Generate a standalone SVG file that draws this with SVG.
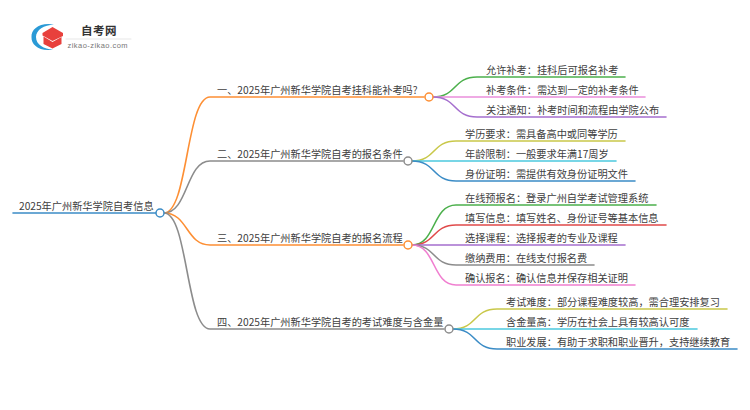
<svg xmlns="http://www.w3.org/2000/svg" width="750" height="410" viewBox="0 0 750 410">
<style>
text{font-family:"Noto Sans CJK SC","Liberation Sans",sans-serif;font-size:10.2px;fill:#404040}
path{fill:none;stroke-width:1.6;stroke-linecap:round}
.n{fill:#fff;stroke-width:1.5}
.o{stroke:#fd8f34}.g{stroke:#8c8c8c}.gr{stroke:#4cb04c}.pk{stroke:#ea8fdc}.pu{stroke:#a56fce}.y{stroke:#c9c84a}.c{stroke:#4cc9de}.b{stroke:#3b8cc6}.r{stroke:#e04a4a}.m{stroke:#f07fd0}
</style>
<rect width="750" height="410" fill="#fff"/>
<g id="logo">
<path d="M54 24.500C40 22 31 29 31.500 37C31 45 40 52 53 49.500C44 49 36 45 36 37C36 30 44 25 54 24.500Z" style="fill:#2a9ad6;stroke:none"/>
<path d="M52.500 27L63 33V36L52.500 41L42.500 35.500V33Z" style="fill:#e8403c;stroke:none"/>
<path d="M43.500 36.500L52.500 42L61.500 37V44L52.500 48.500L43.500 44Z" style="fill:#e8403c;stroke:none"/>
<text x="81" y="35" style="font-size:11.500px;font-weight:700;fill:#333;letter-spacing:.5px">自考网</text>
<path d="M66 39H131" style="stroke:#ddd;stroke-width:.7"/>
<text x="67.500" y="48" style="font-size:7.500px;fill:#777;letter-spacing:.45px;font-family:'Liberation Sans',sans-serif">zikao-zikao.com</text>
</g>
<g id="connectors">
<path class="b" d="M13 213H156"/>
<path class="o" d="M164 213C188 213 186 97 210 97H424"/>
<path class="g" d="M164 213C188 213 186 161 210 161H403"/>
<path class="o" d="M164 213C188 213 186 245 210 245H403"/>
<path class="g" d="M164 213C188 213 186 329 210 329H444"/>
<path class="gr" d="M433 97C457 97 453 77 477 77H625"/>
<path class="pk" d="M433 97H645"/>
<path class="pu" d="M433 97C457 97 453 117 477 117H666"/>
<path class="y" d="M412 161C436 161 432 141 456 141H625"/>
<path class="c" d="M412 161H616"/>
<path class="b" d="M412 161C436 161 432 181 456 181H635"/>
<path class="gr" d="M412 245C436 245 432 205 456 205H656"/>
<path class="r" d="M412 245C436 245 432 225 456 225H666"/>
<path class="pu" d="M412 245H625"/>
<path class="g" d="M412 245C436 245 432 265 456 265H594"/>
<path class="m" d="M412 245C436 245 432 285 456 285H635"/>
<path class="y" d="M453 329C477 329 473 309 497 309H727"/>
<path class="c" d="M453 329H697"/>
<path class="b" d="M453 329C477 329 473 349 497 349H737"/>
</g>
<g id="root"><text x="19" y="210">2025年广州新华学院自考信息</text><circle class="n b" cx="160" cy="213" r="4"/></g>
<g id="b1"><text x="217" y="94">一、2025年广州新华学院自考挂科能补考吗?</text><circle class="n o" cx="429" cy="97" r="4"/></g>
<g id="b2"><text x="217" y="158">二、2025年广州新华学院自考的报名条件</text><circle class="n g" cx="408" cy="161" r="4"/></g>
<g id="b3"><text x="217" y="242">三、2025年广州新华学院自考的报名流程</text><circle class="n o" cx="408" cy="245" r="4"/></g>
<g id="b4"><text x="217" y="326">四、2025年广州新华学院自考的考试难度与含金量</text><circle class="n g" cx="449" cy="329" r="4"/></g>
<g id="l1"><text x="486" y="74">允许补考：挂科后可报名补考</text></g>
<g id="l2"><text x="486" y="94">补考条件：需达到一定的补考条件</text></g>
<g id="l3"><text x="486" y="114">关注通知：补考时间和流程由学院公布</text></g>
<g id="l4"><text x="465" y="138">学历要求：需具备高中或同等学历</text></g>
<g id="l5"><text x="465" y="158">年龄限制：一般要求年满17周岁</text></g>
<g id="l6"><text x="465" y="178">身份证明：需提供有效身份证明文件</text></g>
<g id="l7"><text x="465" y="202">在线预报名：登录广州自学考试管理系统</text></g>
<g id="l8"><text x="465" y="222">填写信息：填写姓名、身份证号等基本信息</text></g>
<g id="l9"><text x="465" y="242">选择课程：选择报考的专业及课程</text></g>
<g id="l10"><text x="465" y="262">缴纳费用：在线支付报名费</text></g>
<g id="l11"><text x="465" y="282">确认报名：确认信息并保存相关证明</text></g>
<g id="l12"><text x="506" y="306">考试难度：部分课程难度较高，需合理安排复习</text></g>
<g id="l13"><text x="506" y="326">含金量高：学历在社会上具有较高认可度</text></g>
<g id="l14"><text x="506" y="346">职业发展：有助于求职和职业晋升，支持继续教育</text></g>
</svg>
